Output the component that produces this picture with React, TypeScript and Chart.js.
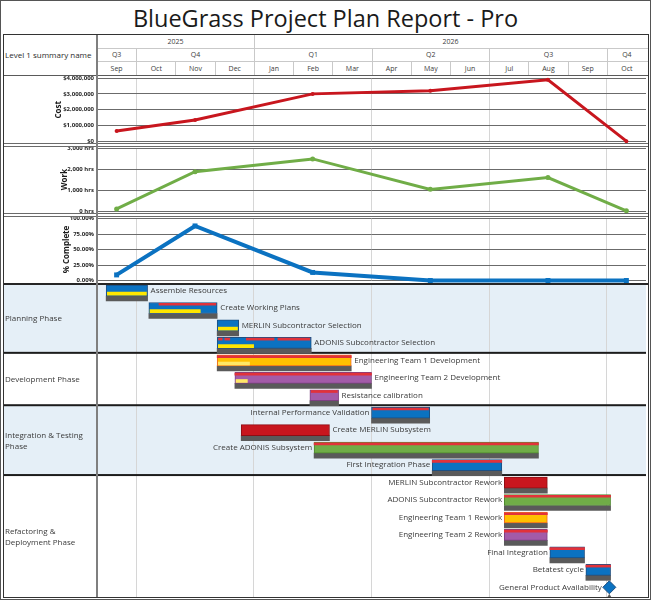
import React, { useEffect, useRef } from 'react';
import { Chart, registerables } from 'chart.js';

Chart.register(...registerables);
Chart.defaults.font.family = '"Open Sans", "DejaVu Sans", sans-serif';

// ---------- calendar (one unit per month, starting 1 Sep 2025) ----------
const months = ['Sep', 'Oct', 'Nov', 'Dec', 'Jan', 'Feb', 'Mar', 'Apr', 'May', 'Jun', 'Jul', 'Aug', 'Sep', 'Oct'];
const quarterLabels = ['Q3', 'Q4', 'Q1', 'Q2', 'Q3', 'Q4'];
const quarterMonthCounts = [1, 3, 3, 3, 3, 1];
const yearLabels = ['2025', '2026'];
const yearMonthCounts = [4, 10];
const START_YEAR = 2025;
const START_MONTH = 9;

// ---------- monthly summary samples ----------
const sampleMonths = ['2025-09', '2025-11', '2026-02', '2026-05', '2026-08', '2026-10'];
const costValues = [660000, 1360000, 3000000, 3200000, 3890000, 20000];
const workValues = [100, 1870, 2480, 1030, 1590, 10];
const completeValues = [9, 88, 13, 0, 0, 0];

// ---------- plan ----------
const phaseNames = ['Planning Phase', 'Development Phase', 'Integration & Testing Phase', 'Refactoring & Deployment Phase'];
const phaseRowCounts = [4, 3, 4, 7];
const taskNames = [
  'Assemble Resources',
  'Create Working Plans',
  'MERLIN Subcontractor Selection',
  'ADONIS Subcontractor Selection',
  'Engineering Team 1 Development',
  'Engineering Team 2 Development',
  'Resistance calibration',
  'Internal Performance Validation',
  'Create MERLIN Subsystem',
  'Create ADONIS Subsystem',
  'First Integration Phase',
  'MERLIN Subcontractor Rework',
  'ADONIS Subcontractor Rework',
  'Engineering Team 1 Rework',
  'Engineering Team 2 Rework',
  'Final Integration',
  'Betatest cycle',
];
const taskStarts = [
  '2025-09-08', '2025-10-11', '2025-12-03', '2025-12-03', '2025-12-03', '2025-12-17',
  '2026-02-13', '2026-04-01', '2025-12-22', '2026-02-16', '2026-05-18', '2026-07-13',
  '2026-07-13', '2026-07-13', '2026-07-13', '2026-08-18', '2026-09-15',
];
const taskEnds = [
  '2025-10-10', '2025-12-03', '2025-12-20', '2026-02-14', '2026-03-16', '2026-04-01',
  '2026-03-06', '2026-05-16', '2026-02-27', '2026-08-09', '2026-07-11', '2026-08-16',
  '2026-10-04', '2026-08-16', '2026-08-16', '2026-09-14', '2026-10-04',
];
const taskProgress = [100, 77, 100, 40, 25, 10, 0, 0, 0, 0, 0, 0, 0, 0, 0, 0, 0];
const taskTeams = [
  'core', 'core', 'core', 'core', 'team1', 'team2', 'team2', 'core', 'merlin',
  'adonis', 'core', 'merlin', 'adonis', 'team1', 'team2', 'core', 'core',
];
// critical-path stretches: [task row, from, to]
const criticalSpans: [number, string, string][] = [
  [1, '2025-10-19', '2025-12-02'],
  [3, '2025-12-04', '2025-12-07'],
  [3, '2025-12-09', '2025-12-13'],
  [3, '2025-12-26', '2026-01-17'],
  [3, '2026-01-20', '2026-02-13'],
  [4, '2025-12-03', '2026-03-16'],
  [5, '2025-12-17', '2026-04-01'],
  [6, '2026-02-14', '2026-03-05'],
  [7, '2026-04-02', '2026-05-15'],
  [9, '2026-02-16', '2026-08-09'],
  [10, '2026-05-18', '2026-07-11'],
  [12, '2026-07-13', '2026-10-04'],
  [13, '2026-07-13', '2026-08-16'],
  [14, '2026-07-13', '2026-08-16'],
  [15, '2026-08-18', '2026-09-14'],
  [16, '2026-09-15', '2026-10-04'],
];
const milestoneName = 'General Product Availability';
const milestoneDate = '2026-10-03';

// ---------- styling ----------
const FONT = '"Open Sans", "DejaVu Sans", sans-serif';
const TEXT = '#3a3a3a';
const BAND = '#e5eff7';
const teamFill: Record<string, string> = {
  core: '#0b72c1', team1: '#ffc000', team2: '#a35ba8', merlin: '#c8161e', adonis: '#70ad47',
};
const teamBorder: Record<string, string> = {
  core: '#1d4f82', team1: '#ee6a1f', team2: '#7d3f82', merlin: '#8e0e14', adonis: '#4f8a2f',
};

// ---------- page geometry ----------
const FRAME_L = 3;
const FRAME_R = 648;
const FRAME_T = 34;
const FRAME_B = 597;
const PLOT_L = 97;
const PLOT_R = 646;
const MONTH_W = (PLOT_R - PLOT_L) / months.length;
const GANTT_TOP = 283;
const ROW_PX = 17.46;
const FIRST_ROW_PX = 2;

const quarterEdges = quarterMonthCounts
  .slice(0, -1)
  .reduce<number[]>((acc, n) => [...acc, (acc.length ? acc[acc.length - 1] : 0) + n], []);

function monthPos(date: string): number {
  const [y, m, d] = date.split('-').map(Number);
  const base = (y - START_YEAR) * 12 + (m - START_MONTH);
  if (!d) return base + 0.5;
  const days = new Date(y, m, 0).getDate();
  return base + (d - 1) / days;
}

function timeAxis(): any {
  return {
    type: 'linear',
    min: 0,
    max: months.length,
    offset: false,
    bounds: 'data',
    ticks: { display: false },
    grid: { color: '#d6d6d6', lineWidth: 1, drawTicks: false, offset: false },
    border: { display: false },
    afterBuildTicks: (s: any) => {
      s.ticks = quarterEdges.map((v) => ({ value: v }));
    },
    afterFit: (s: any) => {
      s.height = 0;
      s.paddingLeft = 0;
      s.paddingRight = 0;
    },
  };
}

type PanelProps = {
  top: number;
  height: number;
  values: number[];
  color: string;
  lineWidth: number;
  pointStyle: string;
  pointRadius: number;
  max: number;
  step: number;
  format: (v: number) => string;
  title: string;
  titleCenter: number;
  padTop: number;
  padBottom: number;
};

function LinePanel(p: PanelProps) {
  const ref = useRef<HTMLCanvasElement>(null);
  useEffect(() => {
    const chart = new Chart(ref.current as HTMLCanvasElement, {
      type: 'line',
      data: {
        datasets: [
          {
            data: sampleMonths.map((m, i) => ({ x: monthPos(m), y: p.values[i] })),
            borderColor: p.color,
            backgroundColor: p.color,
            borderWidth: p.lineWidth,
            pointStyle: p.pointStyle as any,
            pointRadius: p.pointRadius,
            pointBorderWidth: 0,
            tension: 0,
            clip: 8,
          },
        ],
      },
      options: {
        responsive: false,
        animation: false,
        devicePixelRatio: 1,
        events: [],
        layout: { autoPadding: false, padding: { top: p.padTop, bottom: p.padBottom, left: 0, right: 0 } },
        plugins: { legend: { display: false }, tooltip: { enabled: false } },
        scales: {
          x: timeAxis(),
          y: {
            type: 'linear',
            min: 0,
            max: p.max,
            ticks: {
              stepSize: p.step,
              callback: (v: any) => p.format(Number(v)),
              font: { family: FONT, size: 6, weight: 'bold' },
              color: '#262626',
              padding: 3,
            },
            grid: { color: '#6b6b6b', lineWidth: 1, drawTicks: false },
            border: { display: false },
            title: {
              display: true,
              text: p.title,
              font: { family: FONT, size: 8, weight: 'bold' },
              color: '#1a1a1a',
              padding: { top: p.titleCenter - FRAME_L - 4.8, bottom: 0 },
            },
            afterFit: (s: any) => {
              s.width = PLOT_L - FRAME_L;
              s.paddingTop = 0;
              s.paddingBottom = 0;
            },
          } as any,
        },
      },
    });
    return () => chart.destroy();
  }, []);
  return (
    <canvas
      ref={ref}
      width={PLOT_R - FRAME_L}
      height={p.height}
      style={{ position: 'absolute', left: FRAME_L, top: p.top, width: PLOT_R - FRAME_L, height: p.height }}
    />
  );
}

function wrapText(ctx: CanvasRenderingContext2D, text: string, maxW: number): string[] {
  const words = text.split(' ');
  const lines: string[] = [];
  let cur = '';
  words.forEach((w) => {
    const next = cur ? cur + ' ' + w : w;
    if (cur && ctx.measureText(next).width > maxW) {
      lines.push(cur);
      cur = w;
    } else {
      cur = next;
    }
  });
  if (cur) lines.push(cur);
  return lines;
}

// vertical offsets inside a row (in row units)
const OFF_CRIT = 0.1;
const OFF_TASK = 0.315;
const OFF_PROG = 0.498;
const OFF_BASE = 0.773;
const labelLeftRows = new Set([7, 9, 10, 11, 12, 13, 14, 15, 16, 17]);

function GanttPanel() {
  const ref = useRef<HTMLCanvasElement>(null);
  const height = FRAME_B - GANTT_TOP;
  useEffect(() => {
    const starts = taskStarts.map(monthPos);
    const ends = taskEnds.map(monthPos);
    const msX = monthPos(milestoneDate);
    const msRow = taskNames.length;
    const yMin = -FIRST_ROW_PX / ROW_PX;
    const yMax = yMin + height / ROW_PX;

    const phaseBounds = (chart: any) => {
      const y = chart.scales.y;
      const out: [number, number][] = [];
      let row = 0;
      phaseNames.forEach((_, i) => {
        const top = i === 0 ? 0 : y.getPixelForValue(row) - 2;
        row += phaseRowCounts[i];
        const bottom = i === phaseNames.length - 1 ? chart.height : y.getPixelForValue(row) - 2;
        out.push([top, bottom]);
      });
      return out;
    };

    const decor = {
      id: 'ganttDecor',
      beforeDraw(chart: any) {
        const { ctx, width } = chart;
        ctx.save();
        phaseBounds(chart).forEach(([top, bottom], i) => {
          if (i % 2 === 0) {
            ctx.fillStyle = BAND;
            ctx.fillRect(0, top, width, bottom - top);
          }
        });
        ctx.restore();
      },
      beforeDatasetsDraw(chart: any) {
        const { ctx, width } = chart;
        ctx.save();
        ctx.font = `8px ${FONT}`;
        ctx.textBaseline = 'middle';
        ctx.textAlign = 'left';
        const bounds = phaseBounds(chart);
        phaseNames.forEach((name, i) => {
          const [top, bottom] = bounds[i];
          const lines = wrapText(ctx, name, 88);
          const lh = 10.6;
          const mid = (top + bottom) / 2 + 1;
          ctx.fillStyle = TEXT;
          lines.forEach((ln, k) => ctx.fillText(ln, 2, mid + (k - (lines.length - 1) / 2) * lh));
          if (i < phaseNames.length - 1) {
            ctx.fillStyle = '#1c1c1c';
            ctx.fillRect(0, bottom - 1, width, 2);
          }
        });
        ctx.restore();
      },
      afterDatasetsDraw(chart: any) {
        const { ctx } = chart;
        const { x, y } = chart.scales;
        ctx.save();
        ctx.font = `8px ${FONT}`;
        ctx.fillStyle = TEXT;
        ctx.textBaseline = 'middle';
        taskNames.forEach((name, i) => {
          const py = y.getPixelForValue(i + OFF_TASK);
          if (labelLeftRows.has(i)) {
            ctx.textAlign = 'right';
            ctx.fillText(name, x.getPixelForValue(starts[i]) - 2, py);
          } else {
            ctx.textAlign = 'left';
            ctx.fillText(name, x.getPixelForValue(ends[i]) + 3, py);
          }
        });
        ctx.textAlign = 'right';
        ctx.fillText(milestoneName, x.getPixelForValue(msX) - 7.5, y.getPixelForValue(msRow + OFF_TASK));
        ctx.restore();
      },
    };

    // higher `order` is painted first, so task fills sit under progress and critical strips
    const barBase = { grouped: false, borderSkipped: false, indexAxis: 'y' as const };
    const chart = new Chart(ref.current as HTMLCanvasElement, {
      type: 'bar',
      data: {
        datasets: [
          {
            ...barBase,
            label: 'Baseline',
            order: 4,
            data: taskNames.map((_, i) => ({ x: [starts[i], ends[i]], y: i + OFF_BASE })),
            backgroundColor: '#5a5a5a',
            borderWidth: 0,
            barThickness: 5,
          },
          {
            ...barBase,
            label: 'Tasks',
            order: 3,
            data: taskNames.map((_, i) => ({ x: [starts[i], ends[i]], y: i + OFF_TASK })),
            backgroundColor: taskTeams.map((t) => teamFill[t]),
            borderColor: taskTeams.map((t) => teamBorder[t]),
            borderWidth: 1,
            barThickness: 11,
          },
          {
            ...barBase,
            label: 'Progress',
            order: 2,
            data: taskNames
              .map((_, i) => ({ x: [starts[i] + 0.03, starts[i] + ((ends[i] - starts[i]) * taskProgress[i]) / 100 - 0.03], y: i + OFF_PROG, p: taskProgress[i] }))
              .filter((d) => d.p > 0),
            backgroundColor: taskTeams.filter((_, i) => taskProgress[i] > 0).map((t) => (t === 'core' ? '#ffe600' : '#ffe866')),
            borderWidth: 0,
            barThickness: 3,
          },
          {
            ...barBase,
            label: 'Critical',
            order: 1,
            data: criticalSpans.map(([row, a, b]) => ({ x: [monthPos(a), monthPos(b)], y: row + OFF_CRIT })),
            backgroundColor: '#e2323a',
            borderWidth: 0,
            barThickness: 2,
          },
          {
            type: 'scatter',
            label: 'Milestone baseline',
            order: 1,
            data: [{ x: msX, y: msRow + OFF_BASE + 0.05 }],
            pointStyle: 'triangle',
            pointRadius: 2.5,
            backgroundColor: '#5a5a5a',
            borderWidth: 0,
            clip: 8,
          } as any,
          {
            type: 'scatter',
            label: 'Milestone',
            order: 0,
            data: [{ x: msX, y: msRow + OFF_TASK }],
            pointStyle: 'rectRot',
            pointRadius: 6.5,
            backgroundColor: '#0b72c1',
            borderColor: '#1d4f82',
            borderWidth: 1,
            clip: 8,
          } as any,
        ],
      },
      options: {
        responsive: false,
        animation: false,
        devicePixelRatio: 1,
        events: [],
        indexAxis: 'y',
        layout: { autoPadding: false, padding: { left: PLOT_L - FRAME_L, right: 0, top: 0, bottom: 0 } },
        plugins: { legend: { display: false }, tooltip: { enabled: false } },
        scales: {
          x: timeAxis(),
          y: {
            type: 'linear',
            display: false,
            reverse: true,
            offset: false,
            bounds: 'data',
            grace: 0,
            min: yMin,
            max: yMax,
            grid: { offset: false },
            afterDataLimits: (s: any) => {
              s.min = yMin;
              s.max = yMax;
            },
            afterBuildTicks: (s: any) => {
              s.ticks = [{ value: yMin }, { value: yMax }];
              s.min = yMin;
              s.max = yMax;
            },
          } as any,
        },
      },
      plugins: [decor],
    });
    return () => chart.destroy();
  }, []);
  return (
    <canvas
      ref={ref}
      width={PLOT_R - FRAME_L}
      height={height}
      style={{ position: 'absolute', left: FRAME_L, top: GANTT_TOP, width: PLOT_R - FRAME_L, height }}
    />
  );
}

function HeaderRow({ labels, counts, top, height }: { labels: string[]; counts: number[]; top: number; height: number }) {
  let acc = 0;
  return (
    <>
      {labels.map((l, i) => {
        const left = PLOT_L + acc * MONTH_W;
        acc += counts[i];
        return (
          <div
            key={i}
            style={{
              position: 'absolute',
              left,
              top,
              width: counts[i] * MONTH_W,
              height,
              boxSizing: 'border-box',
              borderLeft: i > 0 ? '1px solid #c9c9c9' : 'none',
              display: 'flex',
              alignItems: 'center',
              justifyContent: 'center',
              font: `7px ${FONT}`,
              color: '#404040',
            }}
          >
            {l}
          </div>
        );
      })}
    </>
  );
}

function Line({ l, t, w, h, c }: { l: number; t: number; w: number; h: number; c: string }) {
  return <div style={{ position: 'absolute', left: l, top: t, width: w, height: h, background: c }} />;
}

export default function App() {
  return (
    <div style={{ position: 'absolute', left: 0, top: 0, width: 651, height: 600, background: '#fff', overflow: 'hidden', fontFamily: FONT }}>
      <div
        style={{
          position: 'absolute',
          left: 0,
          top: 4,
          width: 651,
          textAlign: 'center',
          font: `23.5px ${FONT}`,
          lineHeight: '28px',
          color: '#1a1a1a',
        }}
      >
        BlueGrass Project Plan Report - Pro
      </div>

      {/* timescale header */}
      <div
        style={{
          position: 'absolute',
          left: FRAME_L + 2,
          top: FRAME_T,
          height: 41,
          width: PLOT_L - FRAME_L - 4,
          display: 'flex',
          alignItems: 'center',
          font: `8px ${FONT}`,
          color: '#2b2b2b',
        }}
      >
        Level 1 summary name
      </div>
      <HeaderRow labels={yearLabels} counts={yearMonthCounts} top={34} height={14} />
      <HeaderRow labels={quarterLabels} counts={quarterMonthCounts} top={48} height={13} />
      <HeaderRow labels={months} counts={months.map(() => 1)} top={61} height={14} />

      <LinePanel
        top={75}
        height={70}
        values={costValues}
        color="#c8161e"
        lineWidth={3}
        pointStyle="circle"
        pointRadius={2}
        max={4000000}
        step={1000000}
        format={(v) => '$' + v.toLocaleString('en-US')}
        title="Cost"
        titleCenter={59}
        padTop={3}
        padBottom={3.5}
      />
      <LinePanel
        top={145}
        height={69}
        values={workValues}
        color="#70ad47"
        lineWidth={3}
        pointStyle="circle"
        pointRadius={2.5}
        max={3000}
        step={1000}
        format={(v) => v.toLocaleString('en-US') + ' hrs'}
        title="Work"
        titleCenter={65}
        padTop={3}
        padBottom={3}
      />
      <LinePanel
        top={214}
        height={69}
        values={completeValues}
        color="#0b72c1"
        lineWidth={4}
        pointStyle="rect"
        pointRadius={3.5}
        max={100}
        step={25}
        format={(v) => v.toFixed(2) + '%'}
        title="% Complete"
        titleCenter={66.5}
        padTop={4.5}
        padBottom={2.5}
      />
      <GanttPanel />

      {/* rules and frame */}
      <Line l={PLOT_L} t={48} w={FRAME_R - PLOT_L} h={1} c="#c9c9c9" />
      <Line l={PLOT_L} t={61} w={FRAME_R - PLOT_L} h={1} c="#c9c9c9" />
      <Line l={FRAME_L} t={75} w={FRAME_R - FRAME_L} h={1} c="#5a5a5a" />
      <Line l={FRAME_L} t={143} w={FRAME_R - FRAME_L} h={1} c="#6b6b6b" />
      <Line l={FRAME_L} t={146} w={FRAME_R - FRAME_L} h={1} c="#6b6b6b" />
      <Line l={FRAME_L} t={213} w={FRAME_R - FRAME_L} h={1} c="#6b6b6b" />
      <Line l={FRAME_L} t={216} w={FRAME_R - FRAME_L} h={1} c="#6b6b6b" />
      <Line l={FRAME_L} t={283} w={FRAME_R - FRAME_L} h={2} c="#262626" />
      <Line l={PLOT_L - 1} t={FRAME_T} w={2} h={FRAME_B - FRAME_T} c="#7f7f7f" />
      <div
        style={{
          position: 'absolute',
          left: FRAME_L,
          top: FRAME_T,
          width: FRAME_R - FRAME_L + 1,
          height: FRAME_B - FRAME_T + 1,
          boxSizing: 'border-box',
          border: '1px solid #333',
        }}
      />
      <div
        style={{
          position: 'absolute',
          left: 0,
          top: 0,
          width: 651,
          height: 600,
          boxSizing: 'border-box',
          border: '1px solid #555',
        }}
      />
    </div>
  );
}
